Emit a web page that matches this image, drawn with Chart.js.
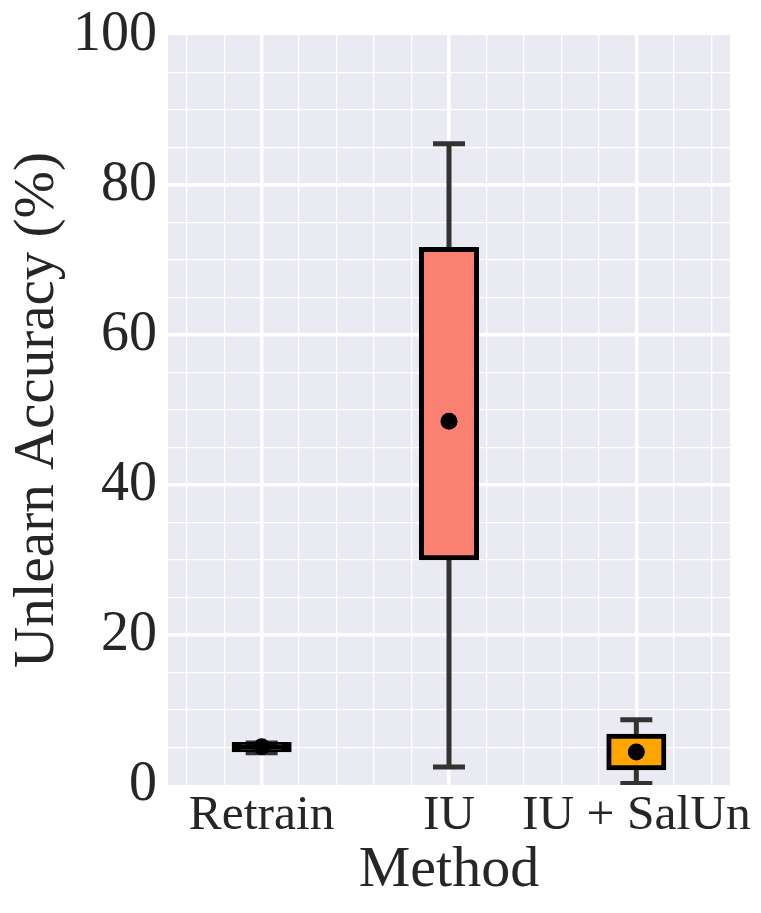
<!DOCTYPE html>
<html><head><meta charset="utf-8">
<script src="https://cdn.jsdelivr.net/npm/chart.js@4/dist/chart.umd.min.js"></script>
<style>html,body{margin:0;padding:0;background:#fff}#wrap{width:761px;height:913px}</style>
</head><body><div id="wrap"><canvas id="c" width="761" height="913"></canvas></div>
<script>
const categories = ["Retrain", "IU", "IU + SalUn"];
const whiskerLow = [4.3, 2.4, 0.2];
const q1 = [4.7, 30.3, 2.3];
const q3 = [5.4, 71.4, 6.5];
const whiskerHigh = [5.6, 85.5, 8.7];
const means = [5.1, 48.5, 4.4];
const boxColors = ["#000000", "#FA8072", "#FFA500"];
const yMajorTicks = [0, 20, 40, 60, 80, 100];

const FONT = "'Liberation Serif', 'Times New Roman', serif";
const TXT = "#262626";
const isInt = v => Math.abs(v - Math.round(v)) < 1e-6;
const tv = c => (c && c.tick) ? c.tick.value : NaN;

const bgPlugin = {
  id: 'bg',
  beforeDraw(chart) {
    const {ctx, chartArea: a} = chart;
    ctx.save(); ctx.fillStyle = '#EAEAF2';
    ctx.fillRect(a.left, a.top, a.right - a.left, a.bottom - a.top);
    ctx.restore();
  }
};

const idx = categories.map((_, i) => i);
new Chart(document.getElementById('c'), {
  type: 'bar',
  data: {
    datasets: [
      { type: 'bar', order: 4, data: idx.map(i => ({x: i, y: [whiskerLow[i], whiskerHigh[i]]})),
        backgroundColor: '#333333', barThickness: 5, grouped: false, borderWidth: 0, inflateAmount: 0 },
      { type: 'scatter', order: 3, data: idx.flatMap(i => [{x: i, y: whiskerLow[i]}, {x: i, y: whiskerHigh[i]}]),
        pointStyle: 'line', pointRadius: 16, pointBorderWidth: 5, borderColor: '#333333', backgroundColor: '#333333' },
      { type: 'bar', order: 2, data: idx.map(i => ({x: i, y: [q1[i], q3[i]]})),
        backgroundColor: boxColors, borderColor: '#000', borderWidth: 5, borderSkipped: false,
        barThickness: 55, grouped: false, inflateAmount: 2.5 },
      { type: 'scatter', order: 1, data: idx.map(i => ({x: i, y: means[i]})),
        pointStyle: 'circle', pointRadius: 8.5, backgroundColor: '#000', borderColor: '#000', borderWidth: 0 }
    ]
  },
  options: {
    responsive: false, animation: false,
    layout: { padding: { top: 35, right: 31, left: 0, bottom: 0 } },
    plugins: { legend: { display: false }, tooltip: { enabled: false } },
    scales: {
      x: {
        type: 'linear', min: -0.5, max: 2.5, offset: false,
        afterFit(s) { s.height = 128; s.paddingLeft = 0; s.paddingRight = 0; },
        afterBuildTicks(s) {
          const t = [];
          for (let k = -2; k <= 12; k++) t.push({ value: k / 5 });
          s.ticks = t;
        },
        border: { display: false },
        grid: {
          offset: false,
          drawTicks: false,
          color: c => isNaN(tv(c)) ? 'rgba(0,0,0,0)' : '#FFFFFF',
          lineWidth: c => isInt(tv(c)) ? 3.5 : 1.3
        },
        ticks: {
          autoSkip: false, maxRotation: 0, padding: 6,
          color: TXT, font: { family: FONT, size: 49.5, lineHeight: 1.0 },
          callback: v => (isInt(v) && categories[Math.round(v)] !== undefined) ? categories[Math.round(v)] : ''
        },
        title: { display: true, text: 'Method', color: TXT, font: { family: FONT, size: 58 }, padding: { top: 0, bottom: 7 } }
      },
      y: {
        type: 'linear', min: 0, max: 100,
        afterFit(s) { s.width = 168; s.paddingTop = 0; s.paddingBottom = 0; },
        border: { display: false },
        grid: {
          drawTicks: false,
          color: c => { const v = tv(c); return (isNaN(v) || v === 0 || v === 100) ? 'rgba(0,0,0,0)' : '#FFFFFF'; },
          lineWidth: c => yMajorTicks.includes(tv(c)) ? 3.5 : 1.3
        },
        ticks: {
          stepSize: 5, autoSkip: false, padding: 11,
          color: TXT, font: { family: FONT, size: 56, lineHeight: 1.0 },
          callback: v => yMajorTicks.includes(v) ? String(v) : ''
        },
        title: { display: true, text: 'Unlearn Accuracy (%)', color: TXT, font: { family: FONT, size: 57 }, padding: { top: 4, bottom: 4 } }
      }
    }
  },
  plugins: [bgPlugin]
});
</script></body></html>
